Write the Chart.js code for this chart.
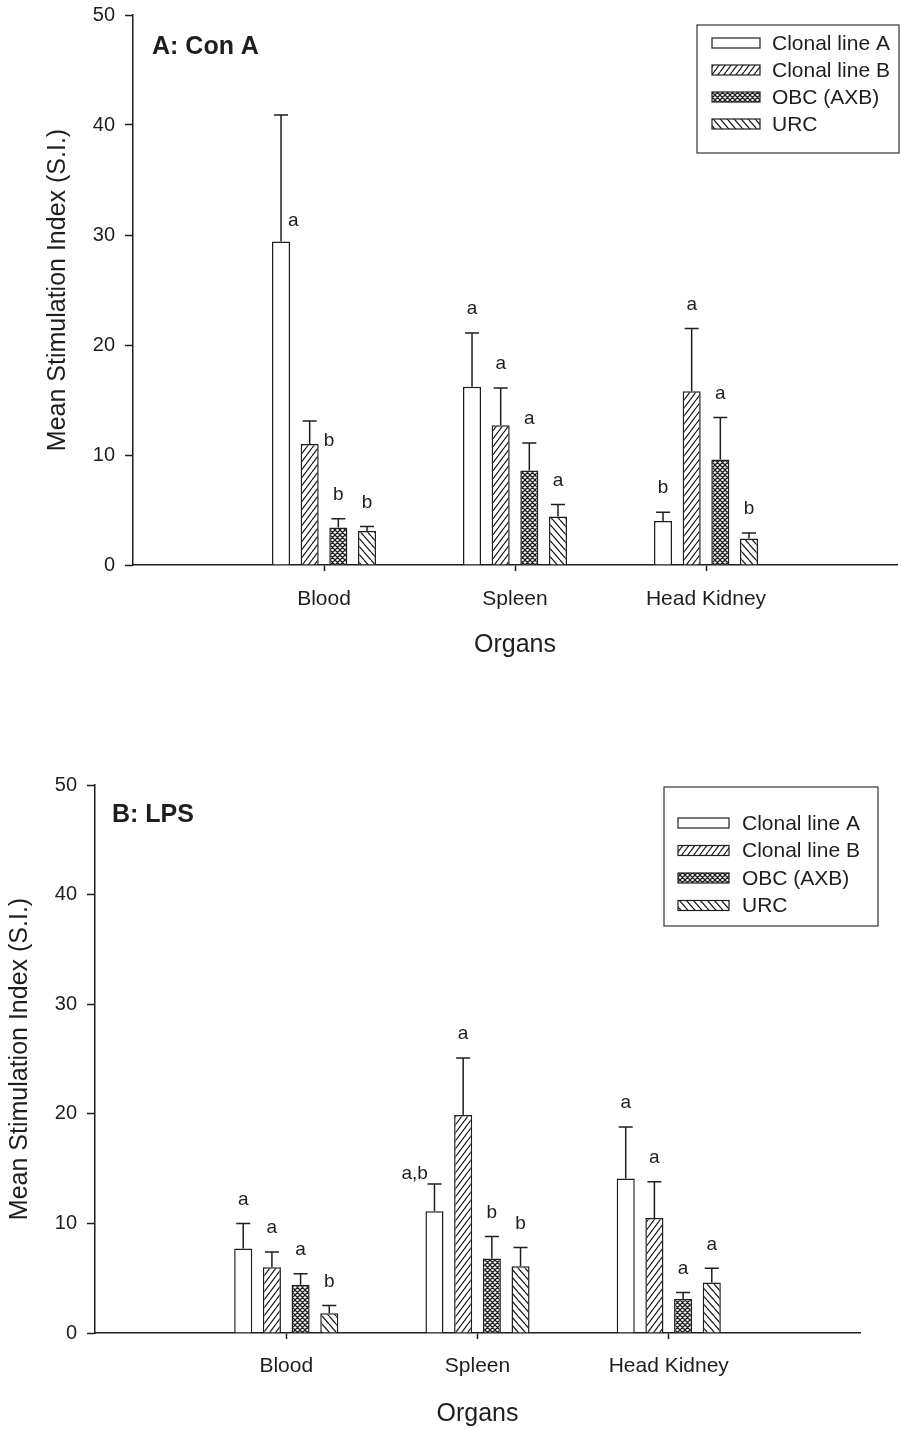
<!DOCTYPE html>
<html>
<head>
<meta charset="utf-8">
<script src="https://cdn.jsdelivr.net/npm/chart.js@4.4.1/dist/chart.umd.min.js"></script>
<style>
  body { margin: 0; background: #fff; width: 901px; height: 1430px; overflow: hidden; position: relative; }
  .panel { position: absolute; left: 0; width: 901px; }
  #pA { top: 0; height: 690px; }
  #pB { top: 700px; height: 730px; }
</style>
</head>
<body>
<div class="panel" id="pA"><canvas id="chartA"></canvas></div>
<div class="panel" id="pB"><canvas id="chartB"></canvas></div>
<script>
// ---- data ----
const organs = ['', 'Blood', 'Spleen', 'Head Kidney', ''];
const groups = ['Clonal line A', 'Clonal line B', 'OBC (AXB)', 'URC'];
const yTickStep = 10;

// Panel A: Con A  (Blood, Spleen, Head Kidney)
const conA_lineA = [29.4, 16.2, 4.0];
const conA_lineB = [11.0, 12.7, 15.8];
const conA_obc   = [3.4, 8.6, 9.6];
const conA_urc   = [3.1, 4.4, 2.4];
const conA_errA   = [11.5, 4.9, 0.8];
const conA_errB   = [2.1, 3.4, 5.7];
const conA_errObc = [0.8, 2.5, 3.8];
const conA_errUrc = [0.4, 1.1, 0.5];
const conA_letA   = ['a', 'a', 'b'];
const conA_letB   = ['b', 'a', 'a'];
const conA_letObc = ['b', 'a', 'a'];
const conA_letUrc = ['b', 'a', 'b'];

// Panel B: LPS
const lps_lineA = [7.7, 11.1, 14.1];
const lps_lineB = [6.0, 19.9, 10.5];
const lps_obc   = [4.4, 6.8, 3.1];
const lps_urc   = [1.8, 6.1, 4.6];
const lps_errA   = [2.3, 2.5, 4.7];
const lps_errB   = [1.4, 5.2, 3.3];
const lps_errObc = [1.0, 2.0, 0.6];
const lps_errUrc = [0.7, 1.7, 1.3];
const lps_letA   = ['a', 'a,b', 'a'];
const lps_letB   = ['a', 'a', 'a'];
const lps_letObc = ['a', 'b', 'a'];
const lps_letUrc = ['b', 'b', 'a'];

const INK = '#1e1e1e';
const FONT = "'Liberation Sans', Arial, Helvetica, sans-serif";

// ---- fill patterns (w = horizontal spacing, h = tile height) ----
function makePattern(ctx, kind, w, h) {
  const c = document.createElement('canvas');
  c.width = w;
  c.height = h;
  const g = c.getContext('2d');
  g.fillStyle = '#fff';
  g.fillRect(0, 0, w, h);
  g.strokeStyle = INK;
  g.lineWidth = 1.25;
  g.beginPath();
  for (const k of [-w, 0, w]) {
    if (kind === 'fwd' || kind === 'cross') { g.moveTo(k, h); g.lineTo(k + w, 0); }
    if (kind === 'back' || kind === 'cross') { g.moveTo(k, 0); g.lineTo(k + w, h); }
  }
  g.stroke();
  return ctx.createPattern(c, 'repeat');
}

// ---- error bars, letters, legend, panel title ----
const panelExtras = {
  id: 'panelExtras',
  afterDatasetsDraw(chart, args, opts) {
    const ctx = chart.ctx;
    const y = chart.scales.y;
    ctx.save();
    ctx.strokeStyle = INK;
    ctx.fillStyle = INK;
    ctx.lineWidth = 1.5;
    ctx.font = '19px ' + FONT;
    chart.data.datasets.forEach((ds, i) => {
      const meta = chart.getDatasetMeta(i);
      opts.errors[i].forEach((err, j) => {
        const bar = meta.data[j + 1];
        const val = ds.data[j + 1];
        const yTop = y.getPixelForValue(val + err);
        ctx.beginPath();
        ctx.moveTo(bar.x, bar.y);
        ctx.lineTo(bar.x, yTop);
        ctx.moveTo(bar.x - 7, yTop);
        ctx.lineTo(bar.x + 7, yTop);
        ctx.stroke();

        // letters sit above the cap unless a custom offset is given
        const side = opts.beside.find(p => p[0] === i && p[1] === j);
        ctx.textBaseline = 'middle';
        if (side) {
          ctx.textAlign = 'left';
          ctx.fillText(opts.letters[i][j], bar.x + side[2], bar.y + side[3]);
        } else {
          ctx.textAlign = 'center';
          ctx.fillText(opts.letters[i][j], bar.x, yTop - 24);
        }
      });
    });
    ctx.restore();
  },
  afterDraw(chart, args, opts) {
    const ctx = chart.ctx;
    const L = opts.legend;
    ctx.save();
    // legend box
    ctx.strokeStyle = '#333';
    ctx.lineWidth = 1.2;
    ctx.strokeRect(L.x, L.y, L.w, L.h);
    ctx.font = '21px ' + FONT;
    ctx.textAlign = 'left';
    ctx.textBaseline = 'middle';
    chart.data.datasets.forEach((ds, i) => {
      const cy = L.rowY + i * L.rowGap;
      ctx.fillStyle = ds.backgroundColor;
      ctx.fillRect(L.swX, cy - 5, L.swW, 10);
      ctx.strokeStyle = INK;
      ctx.lineWidth = 1.2;
      ctx.strokeRect(L.swX, cy - 5, L.swW, 10);
      ctx.fillStyle = INK;
      ctx.fillText(ds.label, L.textX, cy + 1);
    });
    // panel title
    ctx.font = 'bold 25px ' + FONT;
    ctx.fillStyle = INK;
    ctx.fillText(opts.title.text, opts.title.x, opts.title.y);
    ctx.restore();
  }
};

function makeChart(id, c) {
  const canvas = document.getElementById(id);
  const ctx = canvas.getContext('2d');
  const fills = ['#ffffff', makePattern(ctx, 'fwd', 6, 8), makePattern(ctx, 'cross', 5, 5), makePattern(ctx, 'back', 7, 8)];
  const datasets = groups.map((g, i) => ({
    label: g,
    data: [null, ...c.values[i], null],
    backgroundColor: fills[i],
    borderColor: INK,
    borderWidth: 1.5,
    categoryPercentage: 0.6,
    barPercentage: 0.63
  }));

  return new Chart(canvas, {
    type: 'bar',
    data: { labels: organs, datasets },
    plugins: [panelExtras],
    options: {
      responsive: true,
      maintainAspectRatio: false,
      animation: false,
      layout: { padding: c.padding },
      plugins: {
        legend: { display: false },
        tooltip: { enabled: false },
        panelExtras: {
          errors: c.errors,
          letters: c.letters,
          beside: c.beside,
          legend: c.legend,
          title: c.title
        }
      },
      scales: {
        x: {
          offset: false,
          grid: {
            offset: false,
            drawOnChartArea: false,
            tickLength: 6,
            tickWidth: 1.5,
            tickColor: ctx => organs[ctx.index] ? INK : 'rgba(0,0,0,0)'
          },
          border: { color: INK, width: 1.5 },
          ticks: { color: INK, font: { family: FONT, size: 21 }, padding: c.xTickPad, maxRotation: 0, autoSkip: false },
          title: { display: true, text: 'Organs', color: INK, font: { family: FONT, size: 25 }, padding: { top: 0, bottom: c.xTitlePad } },
          afterFit: s => { s.height = c.xHeight; s.paddingLeft = 0; s.paddingRight = 0; }
        },
        y: {
          min: 0,
          max: 50,
          ticks: { stepSize: yTickStep, color: INK, font: { family: FONT, size: 20 }, padding: 10 },
          grid: { drawOnChartArea: false, tickLength: 8, tickWidth: 1.5, tickColor: INK },
          border: { color: INK, width: 1.5 },
          title: { display: true, text: 'Mean Stimulation Index (S.I.)', color: INK, font: { family: FONT, size: 25 }, padding: { top: c.yTitlePad, bottom: 0 } },
          afterFit: s => { s.width = c.yWidth; s.paddingTop = 0; s.paddingBottom = 0; }
        }
      }
    }
  });
}

makeChart('chartA', {
  values: [conA_lineA, conA_lineB, conA_obc, conA_urc],
  errors: [conA_errA, conA_errB, conA_errObc, conA_errUrc],
  letters: [conA_letA, conA_letB, conA_letObc, conA_letUrc],
  beside: [[0, 0, 7, -21], [1, 0, 14, -3]],
  padding: { top: 15, right: 4, left: 0, bottom: 0 },
  yWidth: 133,
  xHeight: 125,
  xTickPad: 16,
  xTitlePad: 30,
  yTitlePad: 43,
  legend: { x: 697, y: 25, w: 202, h: 128, swX: 712, swW: 48, textX: 772, rowY: 43, rowGap: 27 },
  title: { text: 'A: Con A', x: 152, y: 47 }
});

makeChart('chartB', {
  values: [lps_lineA, lps_lineB, lps_obc, lps_urc],
  errors: [lps_errA, lps_errB, lps_errObc, lps_errUrc],
  letters: [lps_letA, lps_letB, lps_letObc, lps_letUrc],
  beside: [[0, 1, -33, -38]],
  padding: { top: 85, right: 41, left: 0, bottom: 0 },
  yWidth: 95,
  xHeight: 97,
  xTickPad: 15,
  xTitlePad: 1,
  yTitlePad: 5,
  legend: { x: 664, y: 87, w: 214, h: 139, swX: 678, swW: 51, textX: 742, rowY: 123, rowGap: 27.5 },
  title: { text: 'B: LPS', x: 112, y: 115 }
});
</script>
</body>
</html>
